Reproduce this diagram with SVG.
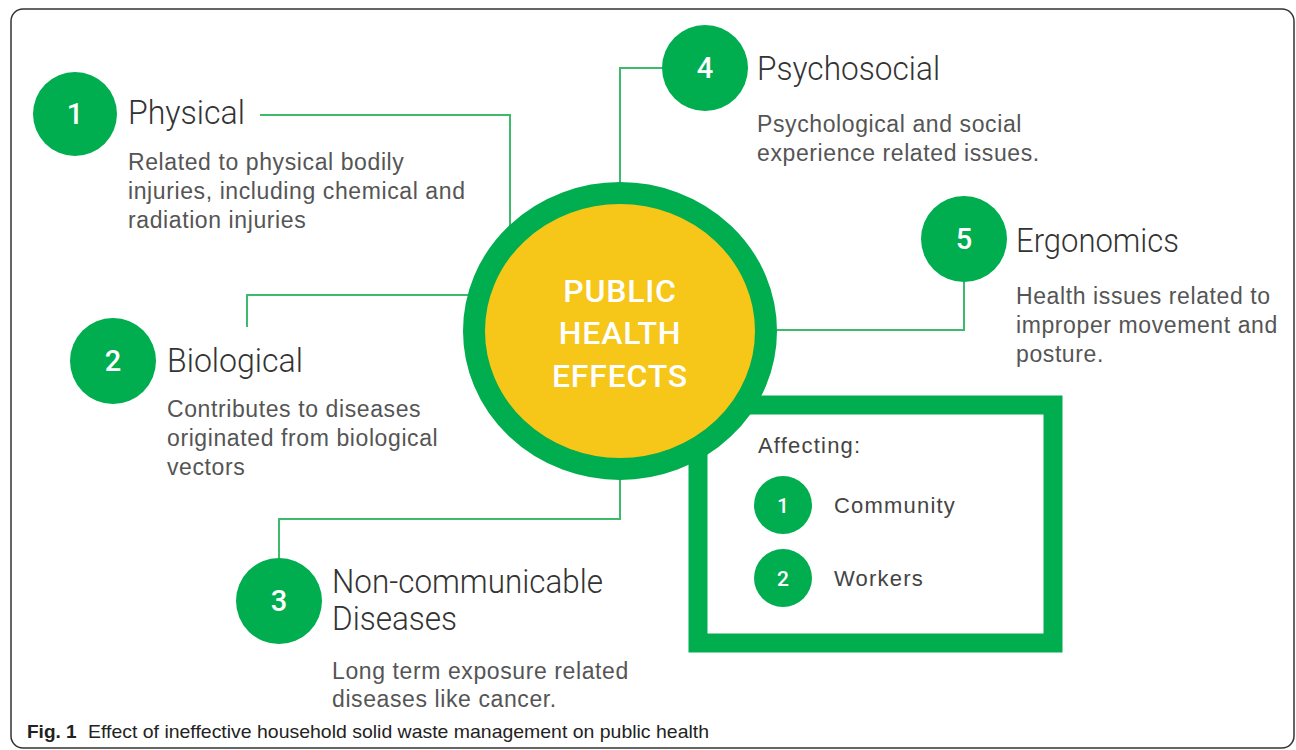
<svg xmlns="http://www.w3.org/2000/svg" width="1296" height="750" viewBox="0 0 1296 750">
  <defs>
    <style>
      .frame { fill: #ffffff; stroke: #333333; stroke-width: 1.5; }
      .badge { fill: #00ad4f; }
      .badge-num { fill: #ffffff; font-family: Roboto, "Liberation Sans", sans-serif; font-weight: 500; font-size: 29px; text-anchor: middle; }
      .badge-num-sm { fill: #ffffff; font-family: Roboto, "Liberation Sans", sans-serif; font-weight: 500; font-size: 21px; text-anchor: middle; }
      .head { fill: #333333; font-family: Roboto, "Liberation Sans", sans-serif; font-weight: 300; font-size: 33px; }
      .desc { fill: #555555; font-family: "Liberation Sans", Arial, sans-serif; font-size: 23px; letter-spacing: 0.6px; }
      .item { fill: #444444; font-family: "Liberation Sans", Arial, sans-serif; font-size: 22px; letter-spacing: 1.2px; }
      .hub-ring { fill: #f6c619; stroke: #00ad4f; stroke-width: 22; }
      .hub-text { fill: #ffffff; font-family: Roboto, "Liberation Sans", sans-serif; font-weight: 500; font-size: 32px; letter-spacing: 0.8px; text-anchor: middle; }
      .link { fill: none; stroke: #3dbb6b; stroke-width: 2; }
      .audience { fill: #ffffff; stroke: #00ad4f; stroke-width: 19; }
      .caption { fill: #222222; font-family: "Liberation Sans", Arial, sans-serif; font-size: 19px; }
    </style>
  </defs>

  <!-- figure frame -->
  <rect class="frame" x="11" y="9" width="1283" height="739" rx="12" ry="12"/>

  <!-- connectors from the hub to each category -->
  <g id="connectors">
    <polyline class="link" points="260,115 510,115 510,226"/>
    <polyline class="link" points="247,327 247,295 469,295"/>
    <polyline class="link" points="279,559 279,519 620,519 620,479"/>
    <polyline class="link" points="662,68 620,68 620,184"/>
    <polyline class="link" points="964,282 964,330 777,330"/>
  </g>

  <!-- who is affected -->
  <g id="affecting">
    <rect class="audience" x="698" y="405" width="355" height="238"/>
    <text class="item" x="758" y="453">Affecting:</text>
    <circle class="badge" cx="783" cy="505" r="29"/>
    <text class="badge-num-sm" x="783" y="513">1</text>
    <text class="item" x="834" y="513">Community</text>
    <circle class="badge" cx="783" cy="578" r="29"/>
    <text class="badge-num-sm" x="783" y="586">2</text>
    <text class="item" x="834" y="586">Workers</text>
  </g>

  <!-- central hub -->
  <g id="hub">
    <ellipse class="hub-ring" cx="620" cy="331" rx="146" ry="138"/>
    <text class="hub-text" x="620" y="302">PUBLIC</text>
    <text class="hub-text" x="620" y="344">HEALTH</text>
    <text class="hub-text" x="620" y="387">EFFECTS</text>
  </g>

  <g id="physical">
    <circle class="badge" cx="75" cy="114" r="42"/>
    <text class="badge-num" x="75" y="124">1</text>
    <text class="head" x="128" y="124" textLength="117" lengthAdjust="spacingAndGlyphs">Physical</text>
    <text class="desc" x="128" y="170">Related to physical bodily</text>
    <text class="desc" x="128" y="199">injuries, including chemical and</text>
    <text class="desc" x="128" y="228">radiation injuries</text>
  </g>

  <g id="biological">
    <circle class="badge" cx="113" cy="361" r="43"/>
    <text class="badge-num" x="113" y="371">2</text>
    <text class="head" x="167" y="372" textLength="136" lengthAdjust="spacingAndGlyphs">Biological</text>
    <text class="desc" x="167" y="417">Contributes to diseases</text>
    <text class="desc" x="167" y="446">originated from biological</text>
    <text class="desc" x="167" y="475">vectors</text>
  </g>

  <g id="non-communicable">
    <circle class="badge" cx="279" cy="601" r="43"/>
    <text class="badge-num" x="279" y="611">3</text>
    <text class="head" x="332" y="593" textLength="271" lengthAdjust="spacingAndGlyphs">Non-communicable</text>
    <text class="head" x="332" y="630" textLength="125" lengthAdjust="spacingAndGlyphs">Diseases</text>
    <text class="desc" x="332" y="679">Long term exposure related</text>
    <text class="desc" x="332" y="707">diseases like cancer.</text>
  </g>

  <g id="psychosocial">
    <circle class="badge" cx="705" cy="68" r="43"/>
    <text class="badge-num" x="705" y="78">4</text>
    <text class="head" x="757" y="80" textLength="183" lengthAdjust="spacingAndGlyphs">Psychosocial</text>
    <text class="desc" x="757" y="132">Psychological and social</text>
    <text class="desc" x="757" y="161">experience related issues.</text>
  </g>

  <g id="ergonomics">
    <circle class="badge" cx="964" cy="239" r="43"/>
    <text class="badge-num" x="964" y="249">5</text>
    <text class="head" x="1016" y="252" textLength="163" lengthAdjust="spacingAndGlyphs">Ergonomics</text>
    <text class="desc" x="1016" y="304">Health issues related to</text>
    <text class="desc" x="1016" y="333">improper movement and</text>
    <text class="desc" x="1016" y="362">posture.</text>
  </g>

  <!-- caption -->
  <text class="caption" x="27" y="738" font-weight="bold">Fig. 1</text>
  <text class="caption" x="88" y="738" textLength="621" lengthAdjust="spacingAndGlyphs">Effect of ineffective household solid waste management on public health</text>
</svg>
